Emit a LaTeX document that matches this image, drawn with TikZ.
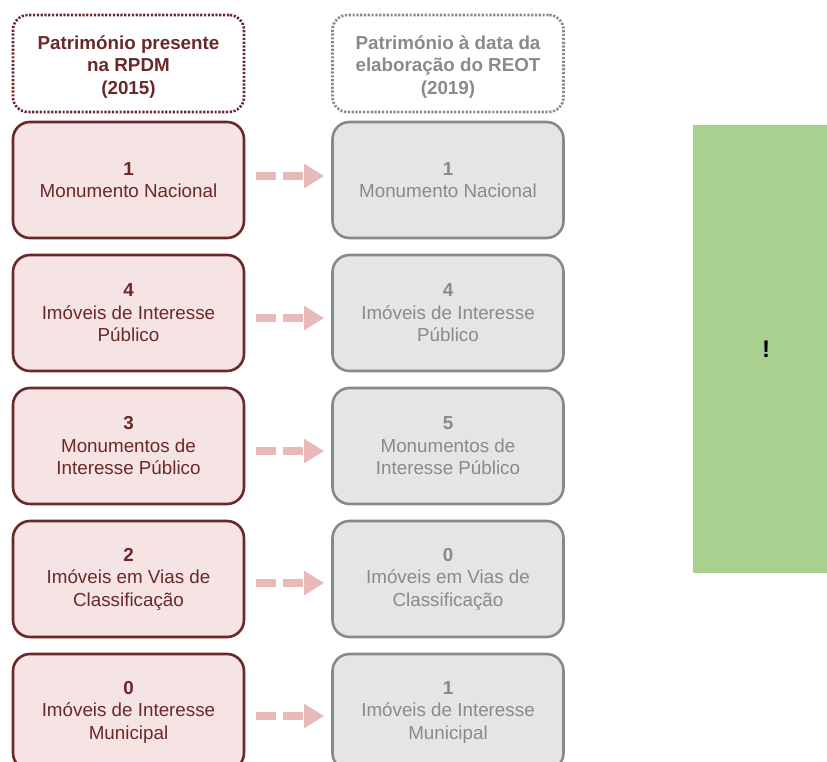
\documentclass[tikz,border=0pt]{standalone}
\usepackage{fontspec}
\setmainfont{Liberation Sans}
\usetikzlibrary{arrows.meta}
\definecolor{maroon}{HTML}{6B2828}
\definecolor{pinkfill}{HTML}{F6E4E4}
\definecolor{graybd}{HTML}{898989}
\definecolor{graytx}{HTML}{8A8A8A}
\definecolor{grayfill}{HTML}{E5E5E5}
\definecolor{arrowpink}{HTML}{E8B9B9}
\definecolor{greenbox}{HTML}{A9D08E}
\begin{document}
\begin{tikzpicture}[x=1pt,y=-1pt,
  txt/.style={font=\fontsize{18.8}{22.5}\selectfont, align=center},
  leftbox/.style={draw=maroon, fill=pinkfill, line width=2.6pt, rounded corners=17pt,
    minimum width=231pt, minimum height=116pt, txt, text=maroon, inner sep=0pt},
  rightbox/.style={draw=graybd, fill=grayfill, line width=2.6pt, rounded corners=17pt,
    minimum width=231pt, minimum height=116pt, txt, text=graytx, inner sep=0pt},
  headbox/.style={line width=2.6pt, dash pattern=on 2.2pt off 1.6pt, rounded corners=15pt,
    minimum width=231pt, minimum height=97pt, inner sep=0pt},
  headtxt/.style={align=center, font=\fontsize{18.8}{22.5}\selectfont\bfseries, inner sep=0pt},
  flow/.style={draw=arrowpink, line width=7.5pt, dash pattern=on 20pt off 7pt,
    -{Triangle[length=20pt,width=23pt,fill=arrowpink]}}
]
\useasboundingbox (0,0) rectangle (827,762);
\node[headbox, draw=maroon] (hl) at (128.5,63.5) {};
\node[headtxt, text=maroon] (hlt) at (128.5,67) {Património presente\\na RPDM\\(2015)};
\node[headbox, draw=graybd] (hr) at (448,63.5) {};
\node[headtxt, text=graytx] (hrt) at (448,67) {Património à data da\\elaboração do REOT\\(2019)};

\node[leftbox] (l1) at (128.5,180) {\textbf{1}\\Monumento Nacional};
\node[leftbox] (l2) at (128.5,313) {\textbf{4}\\Imóveis de Interesse\\Público};
\node[leftbox] (l3) at (128.5,446) {\textbf{3}\\Monumentos de\\Interesse Público};
\node[leftbox] (l4) at (128.5,579) {\textbf{2}\\Imóveis em Vias de\\Classificação};
\node[leftbox] (l5) at (128.5,712) {\textbf{0}\\Imóveis de Interesse\\Municipal};

\node[rightbox] (r1) at (448,180) {\textbf{1}\\Monumento Nacional};
\node[rightbox] (r2) at (448,313) {\textbf{4}\\Imóveis de Interesse\\Público};
\node[rightbox] (r3) at (448,446) {\textbf{5}\\Monumentos de\\Interesse Público};
\node[rightbox] (r4) at (448,579) {\textbf{0}\\Imóveis em Vias de\\Classificação};
\node[rightbox] (r5) at (448,712) {\textbf{1}\\Imóveis de Interesse\\Municipal};

\foreach \i/\dy in {1/4,2/-5,3/-5,4/-4,5/-4}{
  \draw[flow] ([xshift=11pt,yshift=\dy pt]l\i.east) -- ([xshift=-7pt,yshift=\dy pt]r\i.west);
}

\node[fill=greenbox, minimum width=134pt, minimum height=448pt, inner sep=0pt] (g) at (760,349) {};
\node[font=\fontsize{24}{26}\selectfont\bfseries, inner sep=0pt] (gt) at (766,349) {!};
\end{tikzpicture}
\end{document}
